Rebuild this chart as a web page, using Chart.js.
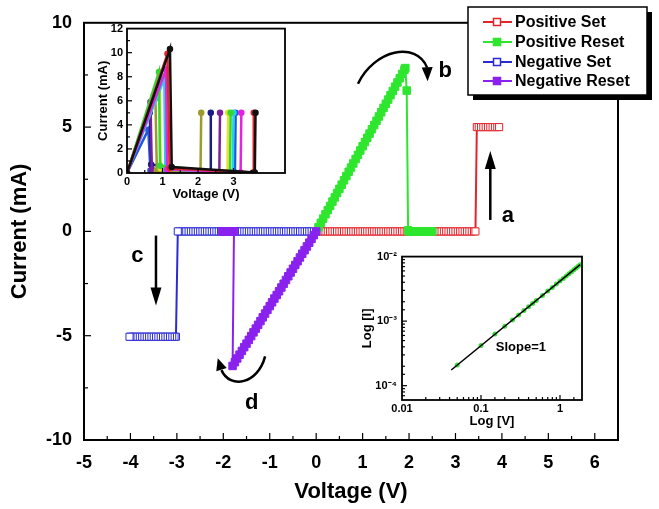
<!DOCTYPE html>
<html>
<head>
<meta charset="utf-8">
<script src="https://cdn.jsdelivr.net/npm/chart.js@4.4.1/dist/chart.umd.min.js"></script>
<style>
  html, body { margin: 0; padding: 0; background: #fff; }
  #wrap { position: relative; width: 659px; height: 509px; }
  canvas { position: absolute; }
  #main { left: 0; top: 0; }
  #inset1 { left: 92px; top: 18px; }
  #inset2 { left: 358px; top: 245px; }
</style>
</head>
<body>
<div id="wrap">
  <canvas id="main" width="659" height="509"></canvas>
  <canvas id="inset1" width="200" height="185"></canvas>
  <canvas id="inset2" width="232" height="185"></canvas>
</div>
<script>
// ---- main I-V loop data (V in volts, I in mA) ----
const seriesNames = ["Positive Set", "Positive Reset", "Negative Set", "Negative Reset"];

const posSetV = [0.00, 0.05, 0.10, 0.15, 0.20, 0.25, 0.30, 0.35, 0.40, 0.45, 0.50, 0.55, 0.60, 0.65, 0.70, 0.75,
  0.80, 0.85, 0.90, 0.95, 1.00, 1.05, 1.10, 1.15, 1.20, 1.25, 1.30, 1.35, 1.40, 1.45, 1.50, 1.55, 1.60, 1.65,
  1.70, 1.75, 1.80, 1.85, 1.90, 1.95, 2.00, 2.05, 2.10, 2.15, 2.20, 2.25, 2.30, 2.35, 2.40, 2.45, 2.50, 2.55,
  2.60, 2.65, 2.70, 2.75, 2.80, 2.85, 2.90, 2.95, 3.00, 3.05, 3.10, 3.15, 3.20, 3.25, 3.30, 3.35, 3.40, 3.43,
  3.46, 3.50, 3.55, 3.60, 3.65, 3.70, 3.75, 3.80, 3.85, 3.90, 3.94];
const posSetI = [0, 0, 0, 0, 0, 0, 0, 0, 0, 0, 0, 0, 0, 0, 0, 0,
  0, 0, 0, 0, 0, 0, 0, 0, 0, 0, 0, 0, 0, 0, 0, 0, 0, 0,
  0, 0, 0, 0, 0, 0, 0, 0, 0, 0, 0, 0, 0, 0, 0, 0, 0, 0,
  0, 0, 0, 0, 0, 0, 0, 0, 0, 0, 0, 0, 0, 0, 0, 0, 0, 0,
  5.0, 5.0, 5.0, 5.0, 5.0, 5.0, 5.0, 5.0, 5.0, 5.0, 5.0];

const posResetV = [0.00, 0.05, 0.10, 0.15, 0.20, 0.25, 0.30, 0.35, 0.40, 0.45, 0.50, 0.55, 0.60, 0.65, 0.70,
  0.75, 0.80, 0.85, 0.90, 0.95, 1.00, 1.05, 1.10, 1.15, 1.20, 1.25, 1.30, 1.35, 1.40, 1.45, 1.50, 1.55, 1.60,
  1.65, 1.70, 1.75, 1.80, 1.85, 1.90, 1.92, 1.95, 1.98, 2.00, 2.05, 2.10, 2.15, 2.20, 2.25, 2.30, 2.35, 2.40,
  2.45, 2.50];
const posResetI = [0.00, 0.20, 0.41, 0.61, 0.82, 1.02, 1.22, 1.43, 1.63, 1.84, 2.04, 2.24, 2.45, 2.65, 2.86,
  3.06, 3.26, 3.47, 3.67, 3.88, 4.08, 4.28, 4.49, 4.69, 4.90, 5.10, 5.30, 5.51, 5.71, 5.92, 6.12, 6.32, 6.53,
  6.73, 6.94, 7.14, 7.34, 7.55, 7.75, 7.83, 6.75, 0.05, 0, 0, 0, 0, 0, 0, 0, 0, 0,
  0, 0];

const negSetV = [0.00, -0.05, -0.10, -0.15, -0.20, -0.25, -0.30, -0.35, -0.40, -0.45, -0.50, -0.55, -0.60,
  -0.65, -0.70, -0.75, -0.80, -0.85, -0.90, -0.95, -1.00, -1.05, -1.10, -1.15, -1.20, -1.25, -1.30, -1.35,
  -1.40, -1.45, -1.50, -1.55, -1.60, -1.65, -1.70, -1.75, -1.80, -1.85, -1.90, -1.95, -2.00, -2.05, -2.10,
  -2.15, -2.20, -2.25, -2.30, -2.35, -2.40, -2.45, -2.50, -2.55, -2.60, -2.65, -2.70, -2.75, -2.80, -2.85,
  -2.90, -2.95, -2.98, -3.02, -3.05, -3.10, -3.15, -3.20, -3.25, -3.30, -3.35, -3.40, -3.45, -3.50, -3.55,
  -3.60, -3.65, -3.70, -3.75, -3.80, -3.85, -3.90, -3.95, -4.00, -4.02];
const negSetI = [0, 0, 0, 0, 0, 0, 0, 0, 0, 0, 0, 0, 0,
  0, 0, 0, 0, 0, 0, 0, 0, 0, 0, 0, 0, 0, 0, 0,
  0, 0, 0, 0, 0, 0, 0, 0, 0, 0, 0, 0, 0, 0, 0,
  0, 0, 0, 0, 0, 0, 0, 0, 0, 0, 0, 0, 0, 0, 0,
  0, 0, 0, -5.05, -5.05, -5.05, -5.05, -5.05, -5.05, -5.05, -5.05, -5.05, -5.05, -5.05, -5.05,
  -5.05, -5.05, -5.05, -5.05, -5.05, -5.05, -5.05, -5.05, -5.05, -5.05];

const negResetV = [0.00, -0.05, -0.10, -0.15, -0.20, -0.25, -0.30, -0.35, -0.40, -0.45, -0.50, -0.55, -0.60,
  -0.65, -0.70, -0.75, -0.80, -0.85, -0.90, -0.95, -1.00, -1.05, -1.10, -1.15, -1.20, -1.25, -1.30, -1.35,
  -1.40, -1.45, -1.50, -1.55, -1.60, -1.65, -1.70, -1.75, -1.80, -1.77, -1.82, -1.87, -1.92, -1.97, -2.02];
const negResetI = [0.00, -0.18, -0.36, -0.54, -0.72, -0.90, -1.07, -1.25, -1.43, -1.61, -1.79, -1.97, -2.15,
  -2.33, -2.51, -2.69, -2.87, -3.05, -3.22, -3.40, -3.58, -3.76, -3.94, -4.12, -4.30, -4.48, -4.66, -4.84,
  -5.02, -5.20, -5.38, -5.55, -5.73, -5.91, -6.09, -6.27, -6.45, 0, 0, 0, 0, 0, 0];

// ---- inset 1: repeated cycles (one entry per cycle) ----
const insetColors = ["#111111", "#e3242b", "#e024e0", "#33d633", "#22d4e6", "#e8e024", "#9c9c2c", "#7a1f9e", "#1c1c86", "#2255e0"];
const insetResetV = [1.21, 1.14, 1.10, 0.90, 1.05, 0.92, 0.80, 0.66, 0.64, 0.60];
const insetResetI = [10.3, 9.9, 8.6, 8.4, 7.8, 8.1, 6.2, 5.9, 5.0, 3.6];
const insetDropV = [1.26, 1.20, 1.13, 0.93, 1.08, 0.95, 0.84, 0.70, 0.68, 0.66];
const insetTailI = [0.5, 0.4, 0.3, 0.6, 0.3, 0.4, 0.2, 0.3, 0.7, 0.2];
const insetSetV = [3.60, 3.55, 3.20, 2.90, 2.98, 2.83, 2.07, 2.60, 2.34, 3.04];
const insetCompliance = 5.0;

// ---- inset 2: log-log fit ----
const fitV = [0.042, 1.8];
const fitI = [1.75e-4, 7.5e-3];
const measV = [0.05, 0.1, 0.15, 0.2, 0.25, 0.3, 0.35, 0.4, 0.45, 0.5, 0.6, 0.7, 0.8, 0.9, 1.0, 1.1, 1.2, 1.3, 1.4, 1.5, 1.6, 1.7, 1.8];
const measI = [2.1e-4, 4.2e-4, 6.3e-4, 8.3e-4, 1.04e-3, 1.25e-3, 1.46e-3, 1.67e-3, 1.88e-3, 2.08e-3, 2.5e-3, 2.92e-3,
  3.33e-3, 3.75e-3, 4.17e-3, 4.58e-3, 5.0e-3, 5.42e-3, 5.83e-3, 6.25e-3, 6.67e-3, 7.08e-3, 7.5e-3];

const FONT = "'Liberation Sans', Arial, Helvetica, sans-serif";
Chart.defaults.font.family = FONT;
Chart.defaults.font.weight = "bold";
Chart.defaults.color = "#000";
Chart.defaults.animation = false;

const RED = "#e3242b", GREEN = "#2ee62e", BLUE = "#2b2bd4", PURPLE = "#8a22ee";

function toPoints(xs, ys) {
  return xs.map((x, i) => ({ x: x, y: ys[i] }));
}

// box round the plot area + inward tick marks
function framePlugin(lineWidth, majorLen, minorLen) {
  return {
    id: "frame",
    afterDraw(chart) {
      const { ctx, chartArea: a, scales } = chart;
      ctx.save();
      ctx.strokeStyle = "#000";
      ctx.lineWidth = lineWidth;
      ctx.strokeRect(a.left, a.top, a.right - a.left, a.bottom - a.top);
      ctx.lineWidth = 1.2;
      scales.x.ticks.forEach((t, i) => {
        const p = scales.x.getPixelForTick(i);
        if (p < a.left + 1 || p > a.right - 1) return;
        const len = t.label ? majorLen : minorLen;
        ctx.beginPath(); ctx.moveTo(p, a.bottom); ctx.lineTo(p, a.bottom - len); ctx.stroke();
      });
      scales.y.ticks.forEach((t, i) => {
        const p = scales.y.getPixelForTick(i);
        if (p < a.top + 1 || p > a.bottom - 1) return;
        const len = t.label ? majorLen : minorLen;
        ctx.beginPath(); ctx.moveTo(a.left, p); ctx.lineTo(a.left + len, p); ctx.stroke();
      });
      ctx.restore();
    }
  };
}

function arrowHead(ctx, fromX, fromY, tipX, tipY, len, half) {
  const ang = Math.atan2(tipY - fromY, tipX - fromX);
  const bx = tipX - len * Math.cos(ang), by = tipY - len * Math.sin(ang);
  ctx.beginPath();
  ctx.moveTo(tipX, tipY);
  ctx.lineTo(bx + half * Math.sin(ang), by - half * Math.cos(ang));
  ctx.lineTo(bx - half * Math.sin(ang), by + half * Math.cos(ang));
  ctx.closePath();
  ctx.fill();
}

// arrows, letters and legend of the main plot
const notesPlugin = {
  id: "notes",
  afterDraw(chart) {
    const { ctx } = chart;
    const X = v => chart.scales.x.getPixelForValue(v);
    const Y = v => chart.scales.y.getPixelForValue(v);
    ctx.save();
    ctx.strokeStyle = "#000";
    ctx.fillStyle = "#000";
    ctx.lineWidth = 2.5;

    // straight arrows a and c
    ctx.beginPath(); ctx.moveTo(X(3.75), Y(0.55)); ctx.lineTo(X(3.75), Y(3.85) + 12); ctx.stroke();
    arrowHead(ctx, X(3.75), Y(0.55), X(3.75), Y(3.85), 18, 5.5);
    ctx.beginPath(); ctx.moveTo(X(-3.45), Y(-0.2)); ctx.lineTo(X(-3.45), Y(-3.55) - 12); ctx.stroke();
    arrowHead(ctx, X(-3.45), Y(-0.2), X(-3.45), Y(-3.55), 18, 5.5);

    // curved arrow b
    ctx.beginPath();
    ctx.moveTo(X(0.90), Y(7.08));
    ctx.bezierCurveTo(X(1.25), Y(8.7), X(2.15), Y(9.15), X(2.39), Y(7.85));
    ctx.stroke();
    arrowHead(ctx, X(2.39), Y(7.95), X(2.40), Y(7.2), 14, 5.5);

    // curved arrow d
    ctx.beginPath();
    ctx.moveTo(X(-1.10), Y(-5.99));
    ctx.bezierCurveTo(X(-1.25), Y(-7.3), X(-1.85), Y(-7.6), X(-2.04), Y(-6.65));
    ctx.stroke();
    arrowHead(ctx, X(-2.02), Y(-6.75), X(-2.12), Y(-6.08), 12, 5.5);

    ctx.font = "bold 22px " + FONT;
    ctx.textAlign = "center";
    ctx.textBaseline = "middle";
    ctx.fillText("a", X(4.13), Y(0.75));
    ctx.fillText("b", X(2.78), Y(7.69));
    ctx.fillText("c", X(-3.85), Y(-1.18));
    ctx.fillText("d", X(-1.39), Y(-8.2));

    // legend box with drop shadow
    const lx = 468, ly = 7, lw = 179, lh = 88;
    ctx.fillStyle = "#000";
    ctx.fillRect(lx + 5, ly + 5, lw, lh);
    ctx.fillStyle = "#fff";
    ctx.fillRect(lx, ly, lw, lh);
    ctx.lineWidth = 1.5;
    ctx.strokeRect(lx, ly, lw, lh);
    const rows = [22, 42, 62, 81];
    const cols = [RED, GREEN, BLUE, PURPLE];
    const filled = [false, true, false, true];
    ctx.font = "bold 16px " + FONT;
    ctx.textAlign = "left";
    seriesNames.forEach((name, k) => {
      const y = rows[k];
      ctx.strokeStyle = cols[k];
      ctx.lineWidth = 2;
      ctx.beginPath(); ctx.moveTo(483, y); ctx.lineTo(512, y); ctx.stroke();
      ctx.fillStyle = filled[k] ? cols[k] : "#fff";
      ctx.fillRect(493.5, y - 3.5, 7, 7);
      ctx.lineWidth = 1.5;
      ctx.strokeRect(493.5, y - 3.5, 7, 7);
      ctx.fillStyle = "#000";
      ctx.fillText(name, 515, y + 1);
    });
    ctx.restore();
  }
};

function loopSet(name, xs, ys, color, filled, order) {
  return {
    label: name,
    data: toPoints(xs, ys),
    borderColor: color,
    borderWidth: 2,
    pointStyle: "rect",
    pointRadius: filled ? 5.3 : 5,
    pointBorderWidth: 1,
    pointBorderColor: color,
    pointBackgroundColor: filled ? color : "#fff",
    tension: 0,
    order: order
  };
}

new Chart(document.getElementById("main"), {
  type: "line",
  data: {
    datasets: [
      loopSet(seriesNames[0], posSetV, posSetI, RED, false, 3),
      loopSet(seriesNames[1], posResetV, posResetI, GREEN, true, 1),
      loopSet(seriesNames[2], negSetV, negSetI, BLUE, false, 2),
      loopSet(seriesNames[3], negResetV, negResetI, PURPLE, true, 0)
    ]
  },
  options: {
    responsive: false,
    devicePixelRatio: 1,
    layout: { padding: { left: 0, top: 16, right: 41, bottom: 0 } },
    plugins: { legend: { display: false }, tooltip: { enabled: false } },
    scales: {
      x: {
        type: "linear", min: -5, max: 6.5,
        grid: { display: false, drawTicks: false },
        border: { display: false },
        ticks: {
          stepSize: 0.5, autoSkip: false, maxRotation: 0, padding: 12,
          font: { size: 18, weight: "bold" },
          callback: v => Number.isInteger(v) ? String(v) : ""
        },
        title: { display: true, text: "Voltage (V)", font: { size: 22, weight: "bold" }, padding: { top: 0, bottom: 4 } },
        afterFit: s => { s.height = 69; }
      },
      y: {
        type: "linear", min: -10, max: 10,
        grid: { display: false, drawTicks: false },
        border: { display: false },
        ticks: {
          stepSize: 2.5, autoSkip: false, padding: 12,
          font: { size: 18, weight: "bold" },
          callback: v => v % 5 === 0 ? String(v) : ""
        },
        title: { display: true, text: "Current (mA)", font: { size: 22, weight: "bold" }, padding: { top: 7, bottom: 0 } },
        afterFit: s => { s.width = 84; }
      }
    }
  },
  plugins: [framePlugin(2, 7, 4), notesPlugin]
});

// ---- inset 1 ----
const insetDatasets = insetColors.map((c, k) => ({
  data: [
    { x: 0, y: 0 },
    { x: insetResetV[k], y: insetResetI[k] },
    { x: insetDropV[k], y: insetTailI[k] },
    { x: insetSetV[k], y: 0.05 },
    { x: insetSetV[k] + 0.02, y: insetCompliance }
  ],
  borderColor: c,
  backgroundColor: c,
  borderWidth: 2.5,
  pointRadius: 2,
  tension: 0
}));

new Chart(document.getElementById("inset1"), {
  type: "line",
  data: { datasets: insetDatasets },
  options: {
    responsive: false,
    devicePixelRatio: 1,
    layout: { padding: { left: 0, top: 6, right: 7, bottom: 0 } },
    plugins: { legend: { display: false }, tooltip: { enabled: false } },
    scales: {
      x: {
        type: "linear", min: 0, max: 4.45,
        grid: { display: false, drawTicks: false },
        border: { display: false },
        ticks: { stepSize: 0.5, autoSkip: false, maxRotation: 0, padding: 2, font: { size: 11, weight: "bold" },
          callback: v => Number.isInteger(v) ? String(v) : "" },
        title: { display: true, text: "Voltage (V)", font: { size: 13, weight: "bold" }, padding: { top: 0, bottom: 1 } },
        afterFit: s => { s.height = 30; }
      },
      y: {
        type: "linear", min: 0, max: 12,
        grid: { display: false, drawTicks: false },
        border: { display: false },
        ticks: { stepSize: 1, autoSkip: false, padding: 4, font: { size: 11, weight: "bold" },
          callback: v => v % 2 === 0 ? String(v) : "" },
        title: { display: true, text: "Current (mA)", font: { size: 13, weight: "bold" }, padding: { top: 4, bottom: 0 } },
        afterFit: s => { s.width = 35; }
      }
    }
  },
  plugins: [framePlugin(1.8, 5, 3)]
});

// ---- inset 2 ----
const supers = { "-2": "10\u207B\u00B2", "-3": "10\u207B\u00B3", "-4": "10\u207B\u2074" };
const slopePlugin = {
  id: "slope",
  afterDraw(chart) {
    const { ctx } = chart;
    ctx.save();
    ctx.font = "bold 13px " + FONT;
    ctx.fillStyle = "#000";
    ctx.textAlign = "center";
    ctx.textBaseline = "middle";
    ctx.fillText("Slope=1", chart.scales.x.getPixelForValue(0.32), chart.scales.y.getPixelForValue(3.9e-4));
    ctx.restore();
  }
};

new Chart(document.getElementById("inset2"), {
  type: "line",
  data: {
    datasets: [
      { data: toPoints(fitV, fitI), borderColor: "#000", borderWidth: 1.5, pointRadius: 0, tension: 0, order: 0 },
      { data: toPoints(measV, measI), showLine: false, pointRadius: 2.5, pointBorderWidth: 0,
        pointBackgroundColor: "#3ee03e", order: 1 }
    ]
  },
  options: {
    responsive: false,
    devicePixelRatio: 1,
    layout: { padding: { left: 0, top: 9, right: 8, bottom: 0 } },
    plugins: { legend: { display: false }, tooltip: { enabled: false } },
    scales: {
      x: {
        type: "logarithmic", min: 0.01, max: 1.9,
        grid: { display: false, drawTicks: false },
        border: { display: false },
        ticks: { autoSkip: false, maxRotation: 0, padding: 2, font: { size: 11, weight: "bold" },
          callback: v => v === 0.01 ? "0.01" : v === 0.1 ? "0.1" : v === 1 ? "1" : "" },
        title: { display: true, text: "Log [V]", font: { size: 13, weight: "bold" }, padding: { top: 0, bottom: 1 } },
        afterFit: s => { s.height = 30; }
      },
      y: {
        type: "logarithmic", min: 6e-5, max: 1e-2,
        grid: { display: false, drawTicks: false },
        border: { display: false },
        ticks: { autoSkip: false, padding: 5, font: { size: 11, weight: "bold" },
          callback: v => {
            const e = Math.log10(v);
            return Math.abs(e - Math.round(e)) < 1e-9 ? (supers[String(Math.round(e))] || "") : "";
          } },
        title: { display: true, text: "Log [I]", font: { size: 13, weight: "bold" }, padding: { top: 2, bottom: 0 } },
        afterFit: s => { s.width = 44; }
      }
    }
  },
  plugins: [framePlugin(1.8, 5, 3), slopePlugin]
});
</script>
</body>
</html>
